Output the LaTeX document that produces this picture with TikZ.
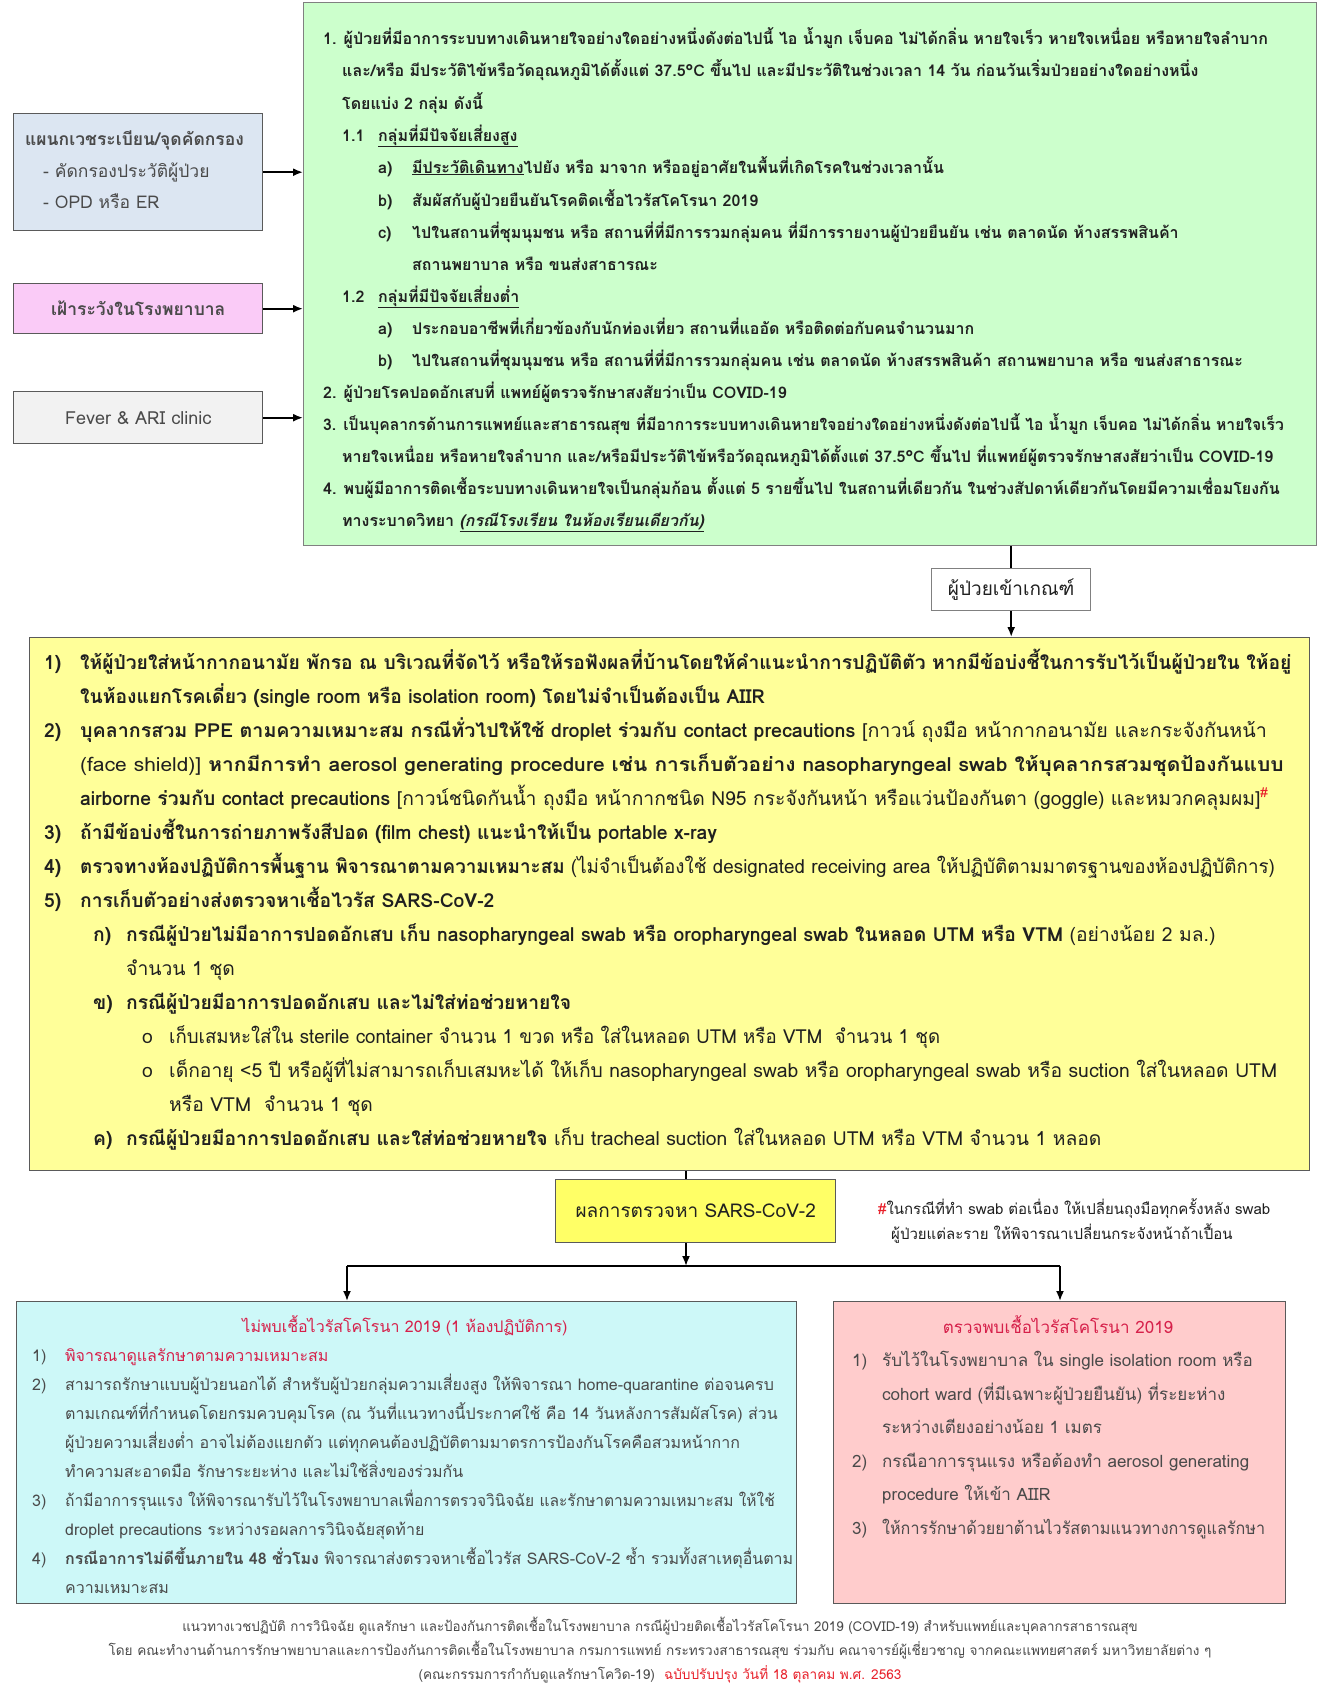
\documentclass[tikz,border=0pt]{standalone}
\usepackage{fontspec}
\usepackage{graphicx}
\setmainfont[Script=Thai]{Loma}
\usetikzlibrary{arrows.meta}
\definecolor{greenfill}{HTML}{CCFFCC}
\definecolor{bluefill}{HTML}{DCE6F2}
\definecolor{pinkfill}{HTML}{FACBF7}
\definecolor{grayfill}{HTML}{F2F2F2}
\definecolor{yellowfill}{HTML}{FFFF99}
\definecolor{sarsfill}{HTML}{FFFF66}
\definecolor{cyanfill}{HTML}{CDF8F8}
\definecolor{rosefill}{HTML}{FFCCCC}
\definecolor{crimson}{HTML}{D6204A}
\definecolor{hashred}{HTML}{E8202A}
\definecolor{bordergray}{HTML}{5A5A5A}
\definecolor{txtdark}{HTML}{202020}
\definecolor{txtgray}{HTML}{4A4A4A}
\newcommand\nb[2]{\makebox[#1pt][l]{#2}}
\newcommand\sx[2]{\scalebox{#1}[1]{#2}}
\begin{document}
\begin{tikzpicture}[x=1pt,y=-1pt,
  boxstyle/.style={draw=bordergray, line width=1.4pt, anchor=north west, inner sep=0pt},
  tline/.style={anchor=base west, inner sep=0pt},
  cline/.style={anchor=base, inner sep=0pt},
  gtext/.style={tline, font=\fontsize{16}{19}\selectfont\bfseries, text=txtdark},
  ytext/.style={tline, font=\fontsize{19.3}{22}\selectfont, text=txtdark},
  ctext/.style={tline, font=\fontsize{16}{19}\selectfont, text=txtgray},
  rtext/.style={tline, font=\fontsize{17}{20}\selectfont, text=txtgray},
  ltext/.style={tline, font=\fontsize{17.5}{20}\selectfont, text=txtgray},
  conn/.style={line width=1.8pt, black},
  arr/.style={conn, -{Latex[length=10pt,width=8pt]}}]
\useasboundingbox (0,0) rectangle (1319,1686);
\fill[white] (0,0) rectangle (1319,1686);

% ---------- boxes ----------
\node[boxstyle, fill=greenfill, draw=gray, minimum width=1013pt, minimum height=543pt] (G) at (303,2) {};
\node[boxstyle, fill=bluefill, minimum width=249pt, minimum height=117pt] (L1) at (13,113) {};
\node[boxstyle, fill=pinkfill, minimum width=249pt, minimum height=50pt] (L2) at (13,283) {};
\node[boxstyle, fill=grayfill, minimum width=249pt, minimum height=52pt] (L3) at (13,391) {};
\node[boxstyle, fill=white, draw=gray, minimum width=159pt, minimum height=42pt] (K) at (931,568) {};
\node[boxstyle, fill=yellowfill, minimum width=1280pt, minimum height=533pt] (Y) at (29,637) {};
\node[boxstyle, fill=sarsfill, minimum width=280pt, minimum height=63pt] (S) at (555,1179) {};
\node[boxstyle, fill=cyanfill, minimum width=780pt, minimum height=302pt] (LB) at (16,1301) {};
\node[boxstyle, fill=rosefill, minimum width=452pt, minimum height=302pt] (RB) at (833,1301) {};

% ---------- left boxes text ----------
\node[ltext, font=\fontsize{17.5}{20}\selectfont\bfseries] (l1a) at (25,145) {แผนกเวชระเบียน/จุดคัดกรอง};
\node[ltext] (l1b) at (43,177) {- คัดกรองประวัติผู้ป่วย};
\node[ltext] (l1c) at (43,208) {- OPD หรือ ER};
\node[font=\fontsize{17.5}{20}\selectfont\bfseries, text=txtgray, inner sep=0pt] (l2a) at (L2.center) {เฝ้าระวังในโรงพยาบาล};
\node[font=\fontsize{18}{20}\selectfont, text=txtgray, inner sep=0pt] (l3a) at (L3.center) {Fever \& ARI clinic};

% ---------- green box text ----------
\node[gtext] (g1) at (323,45) {1. ผู้ป่วยที่มีอาการระบบทางเดินหายใจอย่างใดอย่างหนึ่งดังต่อไปนี้ ไอ น้ำมูก เจ็บคอ ไม่ได้กลิ่น หายใจเร็ว หายใจเหนื่อย หรือหายใจลำบาก};
\node[gtext] (g2) at (342,77) {และ/หรือ มีประวัติไข้หรือวัดอุณหภูมิได้ตั้งแต่ 37.5°C ขึ้นไป และมีประวัติในช่วงเวลา 14 วัน ก่อนวันเริ่มป่วยอย่างใดอย่างหนึ่ง};
\node[gtext] (g3) at (342,109) {โดยแบ่ง 2 กลุ่ม ดังนี้};
\node[gtext] (g4) at (342,141) {\nb{36}{1.1}\underline{กลุ่มที่มีปัจจัยเสี่ยงสูง}};
\node[gtext] (g5) at (378,173) {\nb{34}{a)}\underline{มีประวัติเดินทาง}ไปยัง หรือ มาจาก หรืออยู่อาศัยในพื้นที่เกิดโรคในช่วงเวลานั้น};
\node[gtext] (g6) at (378,206) {\nb{34}{b)}สัมผัสกับผู้ป่วยยืนยันโรคติดเชื้อไวรัสโคโรนา 2019};
\node[gtext] (g7) at (378,238) {\nb{34}{c)}ไปในสถานที่ชุมนุมชน หรือ สถานที่ที่มีการรวมกลุ่มคน ที่มีการรายงานผู้ป่วยยืนยัน เช่น ตลาดนัด ห้างสรรพสินค้า};
\node[gtext] (g8) at (412,270) {สถานพยาบาล หรือ ขนส่งสาธารณะ};
\node[gtext] (g9) at (342,302) {\nb{36}{1.2}\underline{กลุ่มที่มีปัจจัยเสี่ยงต่ำ}};
\node[gtext] (g10) at (378,334) {\nb{34}{a)}ประกอบอาชีพที่เกี่ยวข้องกับนักท่องเที่ยว สถานที่แออัด หรือติดต่อกับคนจำนวนมาก};
\node[gtext] (g11) at (378,366) {\nb{34}{b)}ไปในสถานที่ชุมนุมชน หรือ สถานที่ที่มีการรวมกลุ่มคน เช่น ตลาดนัด ห้างสรรพสินค้า สถานพยาบาล หรือ ขนส่งสาธารณะ};
\node[gtext] (g12) at (323,398) {2. ผู้ป่วยโรคปอดอักเสบที่ แพทย์ผู้ตรวจรักษาสงสัยว่าเป็น COVID-19};
\node[gtext] (g13) at (323,430) {\sx{0.98}{3. เป็นบุคลากรด้านการแพทย์และสาธารณสุข ที่มีอาการระบบทางเดินหายใจอย่างใดอย่างหนึ่งดังต่อไปนี้ ไอ น้ำมูก เจ็บคอ ไม่ได้กลิ่น หายใจเร็ว}};
\node[gtext] (g14) at (342,462) {หายใจเหนื่อย หรือหายใจลำบาก และ/หรือมีประวัติไข้หรือวัดอุณหภูมิได้ตั้งแต่ 37.5°C ขึ้นไป ที่แพทย์ผู้ตรวจรักษาสงสัยว่าเป็น COVID-19};
\node[gtext] (g15) at (323,494) {4. พบผู้มีอาการติดเชื้อระบบทางเดินหายใจเป็นกลุ่มก้อน ตั้งแต่ 5 รายขึ้นไป ในสถานที่เดียวกัน ในช่วงสัปดาห์เดียวกันโดยมีความเชื่อมโยงกัน};
\node[gtext] (g16) at (342,526) {ทางระบาดวิทยา \underline{\itshape (กรณีโรงเรียน ในห้องเรียนเดียวกัน)}};

% ---------- criteria label ----------
\node[font=\fontsize{19}{22}\selectfont, text=txtdark, inner sep=0pt] (k1) at (K.center) {ผู้ป่วยเข้าเกณฑ์};

% ---------- yellow box text ----------
\node[ytext] (y1) at (44,669) {\bfseries\nb{36}{1)}ให้ผู้ป่วยใส่หน้ากากอนามัย พักรอ ณ บริเวณที่จัดไว้ หรือให้รอฟังผลที่บ้านโดยให้คำแนะนำการปฏิบัติตัว หากมีข้อบ่งชี้ในการรับไว้เป็นผู้ป่วยใน ให้อยู่};
\node[ytext] (y2) at (80,703) {\bfseries ในห้องแยกโรคเดี่ยว (single room หรือ isolation room) โดยไม่จำเป็นต้องเป็น AIIR};
\node[ytext] (y3) at (44,737) {\bfseries\nb{36}{2)}\sx{1.02}{บุคลากรสวม PPE ตามความเหมาะสม กรณีทั่วไปให้ใช้ droplet ร่วมกับ contact precautions \mdseries [กาวน์ ถุงมือ หน้ากากอนามัย และกระจังกันหน้า}};
\node[ytext] (y4) at (80,771) {\sx{1.085}{(face shield)] \bfseries หากมีการทำ aerosol generating procedure เช่น การเก็บตัวอย่าง nasopharyngeal swab ให้บุคลากรสวมชุดป้องกันแบบ}};
\node[ytext] (y5) at (80,805) {\bfseries airborne ร่วมกับ contact precautions \mdseries [กาวน์ชนิดกันน้ำ ถุงมือ หน้ากากชนิด N95 กระจังกันหน้า หรือแว่นป้องกันตา (goggle) และหมวกคลุมผม]\textsuperscript{\color{hashred}\#}};
\node[ytext] (y6) at (44,839) {\bfseries\nb{36}{3)}ถ้ามีข้อบ่งชี้ในการถ่ายภาพรังสีปอด (film chest) แนะนำให้เป็น portable x-ray};
\node[ytext] (y7) at (44,873) {\bfseries\nb{36}{4)}\sx{0.975}{ตรวจทางห้องปฏิบัติการพื้นฐาน พิจารณาตามความเหมาะสม \mdseries (ไม่จำเป็นต้องใช้ designated receiving area ให้ปฏิบัติตามมาตรฐานของห้องปฏิบัติการ)}};
\node[ytext] (y8) at (44,907) {\bfseries\nb{36}{5)}การเก็บตัวอย่างส่งตรวจหาเชื้อไวรัส SARS-CoV-2};
\node[ytext] (y9) at (93,941) {\bfseries\nb{33}{ก)}กรณีผู้ป่วยไม่มีอาการปอดอักเสบ เก็บ nasopharyngeal swab หรือ oropharyngeal swab ในหลอด UTM หรือ VTM \mdseries (อย่างน้อย 2 มล.)};
\node[ytext] (y10) at (126,975) {จำนวน 1 ชุด};
\node[ytext] (y11) at (93,1009) {\bfseries\nb{33}{ข)}กรณีผู้ป่วยมีอาการปอดอักเสบ และไม่ใส่ท่อช่วยหายใจ};
\node[ytext] (y12) at (142,1043) {\nb{27}{o}\sx{0.967}{เก็บเสมหะใส่ใน sterile container จำนวน 1 ขวด หรือ ใส่ในหลอด UTM หรือ VTM~~จำนวน 1 ชุด}};
\node[ytext] (y13) at (142,1077) {\nb{27}{o}เด็กอายุ <5 ปี หรือผู้ที่ไม่สามารถเก็บเสมหะได้ ให้เก็บ nasopharyngeal swab หรือ oropharyngeal swab หรือ suction ใส่ในหลอด UTM};
\node[ytext] (y14) at (169,1111) {หรือ VTM~~จำนวน 1 ชุด};
\node[ytext] (y15) at (93,1145) {\bfseries\nb{33}{ค)}กรณีผู้ป่วยมีอาการปอดอักเสบ และใส่ท่อช่วยหายใจ \mdseries เก็บ tracheal suction ใส่ในหลอด UTM หรือ VTM จำนวน 1 หลอด};

% ---------- SARS box and footnote ----------
\node[font=\fontsize{19}{22}\selectfont, text=txtdark, inner sep=0pt] (s1) at (S.center) {ผลการตรวจหา SARS-CoV-2};
\node[tline, font=\fontsize{15}{17}\selectfont, text=txtdark] (n1) at (878,1214) {{\color{hashred}\#}ในกรณีที่ทำ swab ต่อเนื่อง ให้เปลี่ยนถุงมือทุกครั้งหลัง swab};
\node[tline, font=\fontsize{15}{17}\selectfont, text=txtdark] (n2) at (891,1239) {ผู้ป่วยแต่ละราย ให้พิจารณาเปลี่ยนกระจังหน้าถ้าเปื้อน};

% ---------- bottom-left text ----------
\node[cline, font=\fontsize{16}{19}\selectfont, text=crimson] (ct) at (405,1332) {ไม่พบเชื้อไวรัสโคโรนา 2019 (1 ห้องปฏิบัติการ)};
\node[ctext] (c1) at (32,1361) {\nb{33}{1)}\textcolor{crimson}{พิจารณาดูแลรักษาตามความเหมาะสม}};
\node[ctext] (c2) at (32,1390) {\nb{33}{2)}สามารถรักษาแบบผู้ป่วยนอกได้ สำหรับผู้ป่วยกลุ่มความเสี่ยงสูง ให้พิจารณา home-quarantine ต่อจนครบ};
\node[ctext] (c3) at (65,1419) {ตามเกณฑ์ที่กำหนดโดยกรมควบคุมโรค (ณ วันที่แนวทางนี้ประกาศใช้ คือ 14 วันหลังการสัมผัสโรค) ส่วน};
\node[ctext] (c4) at (65,1448) {ผู้ป่วยความเสี่ยงต่ำ อาจไม่ต้องแยกตัว แต่ทุกคนต้องปฏิบัติตามมาตรการป้องกันโรคคือสวมหน้ากาก};
\node[ctext] (c5) at (65,1477) {ทำความสะอาดมือ รักษาระยะห่าง และไม่ใช้สิ่งของร่วมกัน};
\node[ctext] (c6) at (32,1506) {\nb{33}{3)}\sx{0.97}{ถ้ามีอาการรุนแรง ให้พิจารณารับไว้ในโรงพยาบาลเพื่อการตรวจวินิจฉัย และรักษาตามความเหมาะสม ให้ใช้}};
\node[ctext] (c7) at (65,1535) {droplet precautions ระหว่างรอผลการวินิจฉัยสุดท้าย};
\node[ctext] (c8) at (32,1564) {\nb{33}{4)}{\bfseries กรณีอาการไม่ดีขึ้นภายใน 48 ชั่วโมง} พิจารณาส่งตรวจหาเชื้อไวรัส SARS-CoV-2 ซ้ำ รวมทั้งสาเหตุอื่นตาม};
\node[ctext] (c9) at (65,1593) {ความเหมาะสม};

% ---------- bottom-right text ----------
\node[cline, font=\fontsize{17}{20}\selectfont, text=crimson] (rt) at (1058,1333) {ตรวจพบเชื้อไวรัสโคโรนา 2019};
\node[rtext] (r1) at (852,1366) {\nb{30}{1)}รับไว้ในโรงพยาบาล ใน single isolation room หรือ};
\node[rtext] (r2) at (882,1400) {cohort ward (ที่มีเฉพาะผู้ป่วยยืนยัน) ที่ระยะห่าง};
\node[rtext] (r3) at (882,1433) {ระหว่างเตียงอย่างน้อย 1 เมตร};
\node[rtext] (r4) at (852,1467) {\nb{30}{2)}กรณีอาการรุนแรง หรือต้องทำ aerosol generating};
\node[rtext] (r5) at (882,1500) {procedure ให้เข้า AIIR};
\node[rtext] (r6) at (852,1534) {\nb{30}{3)}\sx{0.95}{ให้การรักษาด้วยยาต้านไวรัสตามแนวทางการดูแลรักษา}};

% ---------- footer ----------
\node[cline, font=\fontsize{13.6}{15}\selectfont, text=txtgray] (f1) at (660,1631) {\sx{0.98}{แนวทางเวชปฏิบัติ การวินิจฉัย ดูแลรักษา และป้องกันการติดเชื้อในโรงพยาบาล กรณีผู้ป่วยติดเชื้อไวรัสโคโรนา 2019 (COVID-19) สำหรับแพทย์และบุคลากรสาธารณสุข}};
\node[cline, font=\fontsize{13.6}{15}\selectfont, text=txtgray] (f2) at (660,1655) {โดย คณะทำงานด้านการรักษาพยาบาลและการป้องกันการติดเชื้อในโรงพยาบาล กรมการแพทย์ กระทรวงสาธารณสุข ร่วมกับ คณาจารย์ผู้เชี่ยวชาญ จากคณะแพทยศาสตร์ มหาวิทยาลัยต่าง ๆ};
\node[cline, font=\fontsize{13.6}{15}\selectfont, text=txtgray] (f3) at (660,1679) {(คณะกรรมการกำกับดูแลรักษาโควิด-19)~~\textcolor{hashred}{ฉบับปรับปรุง วันที่ 18 ตุลาคม พ.ศ. 2563}};

% ---------- connectors ----------
\draw[arr] (L1.east) -- (L1.east -| G.west);
\draw[arr] (L2.east) -- (L2.east -| G.west);
\draw[arr] (L3.east) -- (L3.east -| G.west);
\draw[conn] (K.north |- G.south) -- (K.north);
\draw[arr] (K.south) -- (K.south |- Y.north);
\coordinate (sx) at (686,0);
\coordinate (hl) at (347,1266);
\coordinate (hr) at (1060,1266);
\draw[conn] (sx |- Y.south) -- (sx |- S.north);
\draw[arr] (sx |- S.south) -- (sx |- hl);
\draw[conn] (hl) -- (hr);
\draw[arr] (hl) -- (hl |- LB.north);
\draw[arr] (hr) -- (hr |- RB.north);
\end{tikzpicture}
\end{document}
